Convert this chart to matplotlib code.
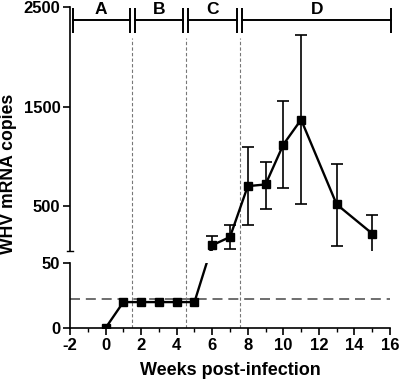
import numpy as np
import matplotlib
matplotlib.use('Agg')
import matplotlib.pyplot as plt
from matplotlib.patches import Rectangle

plt.rcParams['font.family'] = 'Liberation Sans'
plt.rcParams['font.weight'] = 'bold'
plt.rcParams['axes.unicode_minus'] = False

#----------------------------------------------------------------------------------------------------
#  data
#----------------------------------------------------------------------------------------------------
weeks = [0, 1, 2, 3, 4, 5, 6, 7, 8, 9, 10, 11, 13, 15]
copies = [0, 20, 20, 20, 20, 20, 110, 193, 703, 720, 1120, 1370, 520, 227]

err_weeks = [6, 7, 8, 9, 10, 11, 13, 15]
err_mean = [110, 193, 703, 720, 1120, 1370, 520, 227]
err_low = [50, 70, 310, 477, 680, 520, 103, 50]
err_high = [203, 310, 1093, 943, 1560, 2220, 930, 410]

detection_limit = 22
phase_bounds = [1.5, 4.5, 7.55]
phase_names = ['A', 'B', 'C', 'D']
phase_start = [-1.85, 1.65, 4.65, 7.7]
phase_end = [1.35, 4.35, 7.4, 16.05]

#----------------------------------------------------------------------------------------------------
#  broken y axis : 0-50 below, 50-2500 above, small gap between
#----------------------------------------------------------------------------------------------------
LOW_TOP = 65.0   # display units of lower part
UP_BOT = 77.0    # start of upper part
TOTAL = UP_BOT + (2500 - 50) / 10.0


def forward(v):
    v = np.asarray(v, dtype=float)
    return np.where(v <= 50, v * LOW_TOP / 50, UP_BOT + (v - 50) / 10.0)


def inverse(y):
    y = np.asarray(y, dtype=float)
    return np.where(y <= LOW_TOP, y * 50 / LOW_TOP,
                    np.where(y < UP_BOT, 50, 50 + (y - UP_BOT) * 10.0))


fig = plt.figure(figsize=(4, 3.83), dpi=100)
ax = fig.add_axes([70 / 400, 55 / 383, 320 / 400, 321 / 383])
ax.set_yscale('function', functions=(forward, inverse))
ax.set_xlim(-2, 16)
ax.set_ylim(0, 2500)

low_frac = LOW_TOP / TOTAL
up_frac = UP_BOT / TOTAL


def band(y0, y1):
    return Rectangle((0, y0), 1, y1 - y0, transform=ax.transAxes)


# reference lines
ax.plot([-2, 16], [detection_limit, detection_limit], color='#555555', lw=1.2,
        dashes=(6, 3.5), zorder=1)
ax.vlines(phase_bounds, 0, 2190, color='#777777', lw=0.8,
          linestyles=(0, (3, 2)), zorder=1)

# data line, cut by the break
for y0, y1 in [(0, low_frac), (up_frac, 1)]:
    ln, = ax.plot(weeks, copies, color='black', lw=1.7, marker='s', ms=5.5,
                  zorder=3)
    ln.set_clip_path(band(y0, y1))

# error bars (upper part only)
yerr = [np.array(err_mean) - np.array(err_low), np.array(err_high) - np.array(err_mean)]
eb = ax.errorbar(err_weeks, err_mean, yerr=yerr, fmt='none', ecolor='black',
                 elinewidth=1.2, capsize=4, capthick=1.2, zorder=2)
for art in eb.lines[1] + eb.lines[2]:
    art.set_clip_path(band(up_frac, 1))

# phase brackets
for name, s, e in zip(phase_names, phase_start, phase_end):
    ax.plot([s, e], [2370, 2370], color='black', lw=1.4, clip_on=False)
    ax.vlines([s, e], 2240, 2490, color='black', lw=1.4, clip_on=False)
    ax.text((s + e) / 2, 2470, name, ha='center', va='center', fontsize=12.5,
            fontweight='bold', clip_on=False)

# axes
ax.spines['top'].set_visible(False)
ax.spines['right'].set_visible(False)
ax.spines['left'].set_visible(False)
ax.spines['bottom'].set_linewidth(1.2)
ax.plot([0, 0], [0, low_frac], transform=ax.transAxes, color='black', lw=1.2,
        clip_on=False)
ax.plot([0, 0], [up_frac, 1], transform=ax.transAxes, color='black', lw=1.2,
        clip_on=False)
ax.plot([-0.01, 0.01], [up_frac, up_frac], transform=ax.transAxes, color='black',
        lw=1.0, clip_on=False)

ax.set_yticks([0, 50, 500, 1500, 2500])
ax.set_yticklabels(['0', '50', '500', '1500', '2500'])
ax.yaxis.set_minor_locator(matplotlib.ticker.NullLocator())
ax.set_xticks(range(-2, 17, 2))
ax.set_xticks(range(-2, 17, 1), minor=True)
ax.tick_params(axis='both', which='major', labelsize=12, width=1.2, length=5, pad=2)
ax.tick_params(axis='x', which='minor', width=1.0, length=3)
for lab in ax.get_xticklabels() + ax.get_yticklabels():
    lab.set_fontweight('bold')

ax.set_xlabel('Weeks post-infection', fontsize=13, fontweight='bold', labelpad=7)
ax.set_ylabel('WHV mRNA copies', fontsize=12.7, fontweight='bold')
ax.yaxis.set_label_coords(-0.165, 0.48)

plt.savefig('out.png', dpi=100)
